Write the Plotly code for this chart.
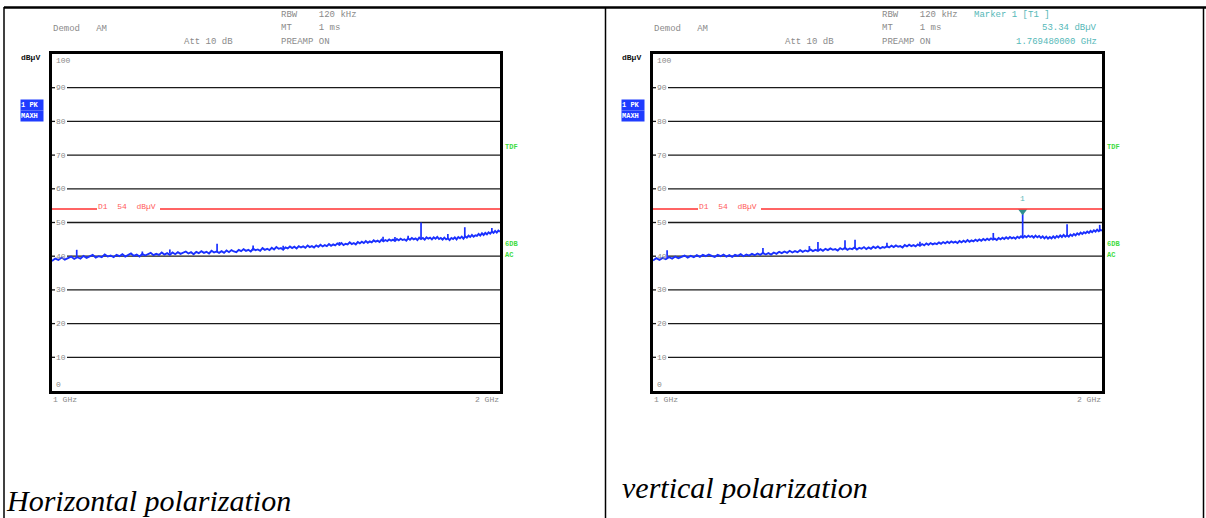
import math
import plotly.graph_objects as go

W, H = 1206, 518

# ---------------- data ----------------
FREQ_GHZ = [
    1.000, 1.005, 1.010, 1.015, 1.020, 1.025, 1.030, 1.035, 1.040, 1.045, 1.050, 1.055, 1.060, 1.065, 1.070, 1.075, 1.080, 1.085, 1.090, 1.095,
    1.100, 1.105, 1.110, 1.115, 1.120, 1.125, 1.130, 1.135, 1.140, 1.145, 1.150, 1.155, 1.160, 1.165, 1.170, 1.175, 1.180, 1.185, 1.190, 1.195,
    1.200, 1.205, 1.210, 1.215, 1.220, 1.225, 1.230, 1.235, 1.240, 1.245, 1.250, 1.255, 1.260, 1.265, 1.270, 1.275, 1.280, 1.285, 1.290, 1.295,
    1.300, 1.305, 1.310, 1.315, 1.320, 1.325, 1.330, 1.335, 1.340, 1.345, 1.350, 1.355, 1.360, 1.365, 1.370, 1.375, 1.380, 1.385, 1.390, 1.395,
    1.400, 1.405, 1.410, 1.415, 1.420, 1.425, 1.430, 1.435, 1.440, 1.445, 1.450, 1.455, 1.460, 1.465, 1.470, 1.475, 1.480, 1.485, 1.490, 1.495,
    1.500, 1.505, 1.510, 1.515, 1.520, 1.525, 1.530, 1.535, 1.540, 1.545, 1.550, 1.555, 1.560, 1.565, 1.570, 1.575, 1.580, 1.585, 1.590, 1.595,
    1.600, 1.605, 1.610, 1.615, 1.620, 1.625, 1.630, 1.635, 1.640, 1.645, 1.650, 1.655, 1.660, 1.665, 1.670, 1.675, 1.680, 1.685, 1.690, 1.695,
    1.700, 1.705, 1.710, 1.715, 1.720, 1.725, 1.730, 1.735, 1.740, 1.745, 1.750, 1.755, 1.760, 1.765, 1.770, 1.775, 1.780, 1.785, 1.790, 1.795,
    1.800, 1.805, 1.810, 1.815, 1.820, 1.825, 1.830, 1.835, 1.840, 1.845, 1.850, 1.855, 1.860, 1.865, 1.870, 1.875, 1.880, 1.885, 1.890, 1.895,
    1.900, 1.905, 1.910, 1.915, 1.920, 1.925, 1.930, 1.935, 1.940, 1.945, 1.950, 1.955, 1.960, 1.965, 1.970, 1.975, 1.980, 1.985, 1.990, 1.995,
    2.000]

# horizontal polarization, max-hold peak trace (dBµV)
H_LEVEL = [
    38.6, 39.3, 38.9, 39.6, 39.0, 39.4, 39.9, 39.2, 39.7, 39.3, 40.1, 39.5, 39.9, 40.4, 39.6, 40.0, 39.7, 40.5, 39.9, 40.2,
    39.7, 40.4, 40.0, 40.6, 39.9, 40.3, 40.8, 40.1, 40.5, 39.9, 40.7, 40.2, 40.6, 41.0, 40.3, 40.7, 40.4, 41.1, 40.5, 40.9,
    40.4, 41.1, 40.6, 41.2, 40.7, 41.0, 41.4, 40.8, 41.2, 40.6, 41.3, 40.9, 41.5, 41.0, 41.3, 40.8, 41.6, 41.1, 41.4, 41.0,
    41.5, 41.0, 41.7, 41.2, 41.8, 41.4, 41.2, 41.9, 41.5, 42.1, 41.6, 41.9, 41.4, 42.2, 41.8, 42.0, 41.6, 42.4, 41.9, 42.2,
    41.8, 42.5, 42.0, 42.7, 42.2, 42.4, 41.9, 42.6, 42.3, 42.9, 42.4, 42.8, 42.3, 43.0, 42.6, 42.9, 42.5, 43.2, 42.7, 43.0,
    42.6, 43.2, 42.8, 43.4, 42.9, 43.3, 43.0, 43.6, 43.1, 43.5, 43.2, 43.8, 43.4, 43.9, 43.3, 43.7, 43.5, 44.1, 43.6, 43.9,
    43.5, 44.2, 43.8, 44.3, 43.9, 44.5, 44.0, 44.4, 44.1, 44.7, 44.3, 44.6, 44.2, 44.9, 44.4, 44.8, 44.5, 45.0, 44.6, 44.9,
    44.5, 45.1, 44.7, 45.2, 44.8, 45.0, 44.6, 45.3, 44.9, 45.4, 45.0, 45.3, 44.8, 45.5, 45.1, 45.4, 44.9, 45.6, 45.2, 45.5,
    45.0, 45.6, 45.2, 45.7, 45.1, 45.4, 44.9, 45.5, 45.0, 45.3, 44.8, 45.4, 45.1, 45.6, 45.0, 45.7, 45.3, 45.8, 45.2, 45.9,
    45.5, 46.1, 45.7, 46.3, 45.8, 46.2, 46.0, 46.6, 46.1, 46.8, 46.3, 46.9, 46.5, 47.1, 46.7, 47.3, 46.9, 47.5, 47.0, 47.6,
    47.3]

# vertical polarization, max-hold peak trace (dBµV)
V_LEVEL = [
    38.7, 39.4, 38.9, 39.5, 39.1, 39.7, 39.3, 39.9, 39.4, 39.8, 40.2, 39.6, 40.1, 39.7, 40.3, 39.8, 40.4, 40.0, 40.5, 40.1,
    39.8, 40.4, 40.0, 40.5, 39.9, 40.3, 39.8, 40.4, 40.1, 40.6, 40.0, 40.5, 40.2, 40.7, 40.3, 40.8, 40.4, 41.0, 40.5, 40.9,
    40.5, 41.1, 40.7, 41.3, 40.9, 41.4, 41.0, 41.6, 41.1, 41.5, 41.2, 41.8, 41.3, 41.7, 41.4, 42.0, 41.5, 41.9, 41.6, 42.1,
    41.6, 42.2, 41.8, 42.3, 41.9, 42.1, 41.7, 42.4, 42.0, 42.5, 41.9, 42.3, 42.1, 42.6, 42.0, 42.5, 42.2, 42.7, 42.1, 42.6,
    42.2, 42.8, 42.4, 42.9, 42.3, 42.7, 42.5, 43.0, 42.6, 43.1, 42.7, 43.2, 42.8, 43.0, 42.6, 43.3, 42.9, 43.4, 43.0, 43.3,
    42.9, 43.5, 43.1, 43.6, 43.2, 43.8, 43.4, 43.9, 43.5, 43.8, 43.6, 44.1, 43.7, 44.2, 43.8, 44.3, 43.9, 44.4, 44.0, 44.3,
    43.9, 44.5, 44.1, 44.6, 44.2, 44.8, 44.3, 44.7, 44.4, 44.9, 44.5, 45.0, 44.6, 45.1, 44.7, 45.2, 44.8, 45.3, 44.9, 45.2,
    44.8, 45.4, 45.0, 45.5, 45.1, 45.6, 45.2, 45.7, 45.3, 45.6, 45.2, 45.8, 45.4, 45.9, 45.5, 46.0, 45.6, 46.1, 45.7, 46.0,
    45.5, 46.1, 45.6, 46.0, 45.4, 45.9, 45.3, 45.8, 45.2, 45.7, 45.3, 45.9, 45.4, 46.0, 45.6, 46.2, 45.7, 46.3, 45.8, 46.2,
    45.8, 46.4, 46.0, 46.6, 46.2, 46.8, 46.4, 47.0, 46.6, 47.1, 46.8, 47.3, 46.9, 47.5, 47.1, 47.7, 47.3, 47.9, 47.4, 47.8,
    47.6]

H_SPIKE_FREQ = [1.039, 1.150, 1.200, 1.291, 1.365, 1.430, 1.560, 1.669, 1.700, 1.735, 1.770, 1.845, 1.894, 1.975]
H_SPIKE_BASE = [39.5, 40.2, 40.8, 41.1, 41.7, 42.2, 43.2, 44.4, 44.8, 45.0, 45.2, 45.2, 45.5, 47.0]
H_SPIKE_PEAK = [41.9, 41.4, 42.0, 43.7, 43.2, 43.1, 44.2, 45.8, 45.7, 46.1, 50.0, 46.6, 48.6, 48.4]

V_SPIKE_FREQ = [1.022, 1.185, 1.273, 1.290, 1.345, 1.366, 1.435, 1.510, 1.691, 1.76948, 1.895, 1.993]
V_SPIKE_BASE = [39.4, 40.6, 41.5, 41.6, 42.0, 42.1, 42.6, 43.2, 45.0, 45.5, 45.9, 47.6]
V_SPIKE_PEAK = [41.8, 42.4, 43.0, 44.2, 44.7, 44.9, 44.0, 44.3, 46.9, 53.34, 49.5, 49.3]

LIMIT_DB = 54
MARKER_FREQ_GHZ = 1.76948
MARKER_LEVEL = 53.34
Y_TICKS = [0, 10, 20, 30, 40, 50, 60, 70, 80, 90, 100]
X_TICK_LABELS = ["1 GHz", "2 GHz"]
PANEL_TITLES = ["Horizontal polarization", "vertical polarization"]

# ---------------- styling ----------------
MONO = "Liberation Mono"
GREY = "#8a8a8a"
TRACE_BLUE = "#1a30ff"
LIMIT_RED = "#ff3030"
TEAL = "#55b8b8"
GREEN = "#3fdc3f"

PANELS = [
    dict(x0=52, x1=500, xa="x", ya="y", level=H_LEVEL,
         sf=H_SPIKE_FREQ, sb=H_SPIKE_BASE, sp=H_SPIKE_PEAK),
    dict(x0=653, x1=1102, xa="x2", ya="y2", level=V_LEVEL,
         sf=V_SPIKE_FREQ, sb=V_SPIKE_BASE, sp=V_SPIKE_PEAK),
]
Y_TOP, Y_BOT = 54, 391


def px(x):
    return x / W


def py(y):
    return 1 - y / H


fig = go.Figure()
shapes = []
ann = []

for i, p in enumerate(PANELS):
    xa, ya = p["xa"], p["ya"]
    pw = p["x1"] - p["x0"]
    xd = xa + " domain"
    yd = ya + " domain"

    for v in Y_TICKS[1:-1]:
        shapes.append(dict(type="line", xref=xd, yref=ya, x0=15 / pw, x1=1, y0=v, y1=v,
                           line=dict(color="#1a1a1a", width=1.3), layer="below"))
        shapes.append(dict(type="line", xref=xd, yref=ya, x0=0, x1=3 / pw, y0=v, y1=v,
                           line=dict(color="#1a1a1a", width=1.3), layer="below"))
        ann.append(dict(xref=xd, yref=ya, x=3 / pw, y=v, text=str(v), showarrow=False,
                        xanchor="left", yanchor="middle", font=dict(family=MONO, size=8, color=GREY),
                        borderpad=0))
    ann.append(dict(xref=xd, yref=ya, x=3 / pw, y=Y_TICKS[-1], text=str(Y_TICKS[-1]), showarrow=False,
                    xanchor="left", yanchor="top", yshift=-1, font=dict(family=MONO, size=8, color=GREY),
                    borderpad=0))
    ann.append(dict(xref=xd, yref=ya, x=3 / pw, y=Y_TICKS[0], text=str(Y_TICKS[0]), showarrow=False,
                    xanchor="left", yanchor="bottom", yshift=1, font=dict(family=MONO, size=8, color=GREY),
                    borderpad=0))

    # limit line D1 with a gap for its label
    shapes.append(dict(type="line", xref=xd, yref=ya, x0=0, x1=45 / pw, y0=LIMIT_DB, y1=LIMIT_DB,
                       line=dict(color=LIMIT_RED, width=1.3)))
    shapes.append(dict(type="line", xref=xd, yref=ya, x0=108 / pw, x1=1, y0=LIMIT_DB, y1=LIMIT_DB,
                       line=dict(color=LIMIT_RED, width=1.3)))
    ann.append(dict(xref=xd, yref=ya, x=45 / pw, y=LIMIT_DB, text=f"D1  {LIMIT_DB}  dBµV",
                    showarrow=False, xanchor="left", yanchor="middle", yshift=3, borderpad=0,
                    font=dict(family=MONO, size=8, color="#ff5a5a")))

    fig.add_trace(go.Scatter(x=FREQ_GHZ, y=p["level"], xaxis=xa, yaxis=ya, mode="lines",
                             line=dict(color=TRACE_BLUE, width=1.9), hoverinfo="skip", showlegend=False))
    sx, sy = [], []
    for f, b, k in zip(p["sf"], p["sb"], p["sp"]):
        sx += [f, f, None]
        sy += [b, k, None]
    fig.add_trace(go.Scatter(x=sx, y=sy, xaxis=xa, yaxis=ya, mode="lines",
                             line=dict(color=TRACE_BLUE, width=1.7), hoverinfo="skip", showlegend=False))

    ann.append(dict(xref=xd, yref=yd, x=0, y=0, text=X_TICK_LABELS[0], showarrow=False, xanchor="left",
                    yanchor="top", yshift=-3, borderpad=0, font=dict(family=MONO, size=8, color=GREY)))
    ann.append(dict(xref=xd, yref=yd, x=1, y=0, text=X_TICK_LABELS[1], showarrow=False, xanchor="right",
                    yanchor="top", yshift=-3, borderpad=0, font=dict(family=MONO, size=8, color=GREY)))

    hdr = [("Demod   AM", 0, 29), ("Att 10 dB", 131, 42), ("RBW    120 kHz", 228, 15),
           ("MT     1 ms", 228, 28), ("PREAMP ON", 228, 42)]
    for t, dx, yy in hdr:
        ann.append(dict(xref="paper", yref="paper", x=px(p["x0"] + dx), y=py(yy), text=t, showarrow=False,
                        xanchor="left", yanchor="middle", borderpad=0,
                        font=dict(family=MONO, size=9, color=GREY)))

    lx = p["x0"] - 32
    ann.append(dict(xref="paper", yref="paper", x=px(lx), y=py(57), text="<b>dBµV</b>", showarrow=False,
                    xanchor="left", yanchor="middle", borderpad=0,
                    font=dict(family=MONO, size=8, color="#111")))
    ann.append(dict(xref="paper", yref="paper", x=px(lx), y=py(105.5), text="<b>1 PK</b>", showarrow=False,
                    xanchor="left", yanchor="middle", borderpad=0, bgcolor="#1f3cff", width=22, height=10,
                    align="left", font=dict(family=MONO, size=7, color="white")))
    ann.append(dict(xref="paper", yref="paper", x=px(lx), y=py(116.5), text="<b>MAXH</b>", showarrow=False,
                    xanchor="left", yanchor="middle", borderpad=0, bgcolor="#1f3cff", width=22, height=10,
                    align="left", font=dict(family=MONO, size=7, color="white")))

    for t, yy in [("TDF", 147), ("6DB", 244), ("AC", 255)]:
        ann.append(dict(xref="paper", yref="paper", x=px(p["x1"] + 4), y=py(yy), text=f"<b>{t}</b>",
                        showarrow=False, xanchor="left", yanchor="middle", borderpad=0,
                        font=dict(family=MONO, size=7, color=GREEN)))

# marker 1 on the vertical polarization plot
fig.add_trace(go.Scatter(x=[MARKER_FREQ_GHZ], y=[MARKER_LEVEL], xaxis="x2", yaxis="y2", mode="markers",
                         marker=dict(symbol="triangle-down", size=8, color="#2f8f8f"),
                         hoverinfo="skip", showlegend=False))
ann.append(dict(xref="x2", yref="y2", x=math.log10(MARKER_FREQ_GHZ), y=MARKER_LEVEL, text="1",
                showarrow=False, yshift=13, borderpad=0, font=dict(family=MONO, size=8, color=TEAL)))
ann.append(dict(xref="paper", yref="paper", x=px(973), y=py(15), text="Marker 1 [T1 ]", showarrow=False,
                xanchor="left", yanchor="middle", borderpad=0, font=dict(family=MONO, size=9, color=TEAL)))
ann.append(dict(xref="paper", yref="paper", x=px(1098), y=py(28), text=f"{MARKER_LEVEL:.2f} dBµV",
                showarrow=False, xanchor="right", yanchor="middle", borderpad=0,
                font=dict(family=MONO, size=9, color=TEAL)))
ann.append(dict(xref="paper", yref="paper", x=px(1098), y=py(42), text=f"{MARKER_FREQ_GHZ:.9f} GHz",
                showarrow=False, xanchor="right", yanchor="middle", borderpad=0,
                font=dict(family=MONO, size=9, color=TEAL)))

# panel captions
ann.append(dict(xref="paper", yref="paper", x=px(5), y=py(500), text=PANEL_TITLES[0], showarrow=False,
                xanchor="left", yanchor="middle", borderpad=0,
                font=dict(family="Liberation Serif", size=30, color="black", style="italic")))
ann.append(dict(xref="paper", yref="paper", x=px(621), y=py(487), text=PANEL_TITLES[1], showarrow=False,
                xanchor="left", yanchor="middle", borderpad=0,
                font=dict(family="Liberation Serif", size=30, color="black", style="italic")))

# table borders
for sx0, sy0, sx1, sy1, wdt in [(4, 7.5, 1206, 7.5, 2.5), (4, 7, 4, 518, 1.5),
                                 (605.5, 7, 605.5, 518, 1.5), (1203.5, 7, 1203.5, 518, 1.5)]:
    shapes.append(dict(type="line", xref="paper", yref="paper", x0=px(sx0), y0=py(sy0),
                       x1=px(sx1), y1=py(sy1), line=dict(color="black", width=wdt)))

frame = dict(showgrid=False, zeroline=False, showticklabels=False, ticks="", showline=True,
             linecolor="black", linewidth=2.5, mirror=True, fixedrange=True)
xr = [0, math.log10(2)]
fig.update_layout(
    width=W, height=H, margin=dict(l=0, r=0, t=0, b=0),
    paper_bgcolor="white", plot_bgcolor="white", showlegend=False,
    xaxis=dict(type="log", range=xr, domain=[px(52), px(500)], anchor="y", **frame),
    yaxis=dict(range=[0, 100], domain=[py(Y_BOT), py(Y_TOP)], anchor="x", **frame),
    xaxis2=dict(type="log", range=xr, domain=[px(653), px(1102)], anchor="y2", **frame),
    yaxis2=dict(range=[0, 100], domain=[py(Y_BOT), py(Y_TOP)], anchor="x2", **frame),
    shapes=shapes, annotations=ann,
)

fig.write_html("out.html")
